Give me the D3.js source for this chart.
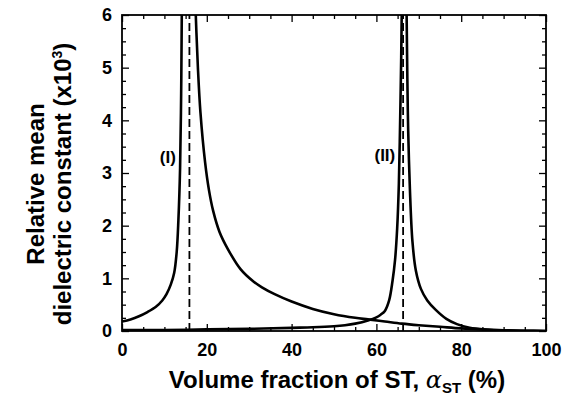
<!DOCTYPE html>
<html>
<head>
<meta charset="utf-8">
<script src="https://cdn.jsdelivr.net/npm/d3@7"></script>
<style>
  body { margin: 0; background: #fff; }
  svg { font-family: "Liberation Sans", Arial, sans-serif; font-weight: bold; }
  .axis path, .axis line { stroke: #000; }
  .axis text { font-size: 18px; font-weight: bold; fill: #000; }
</style>
</head>
<body>
<svg id="chart" width="574" height="397"></svg>
<script>
// curve (I): left and right branches around the first divergence
var curve1LeftX = [0, 2, 4, 6, 8, 9.5, 10.5, 11.5, 12.3, 12.9, 13.3, 13.7, 13.95, 14.1, 14.3];
var curve1LeftY = [0.18, 0.22, 0.28, 0.36, 0.46, 0.58, 0.7, 0.88, 1.1, 1.5, 2.1, 3.1, 4.5, 6, 8];
var curve1RightX = [17.0, 17.4, 17.9, 18.5, 19.6, 20.5, 21.5, 23, 25, 28, 31, 33, 36, 40, 45, 50, 55, 58, 62, 66, 70, 75, 80, 85, 90, 95, 100];
var curve1RightY = [7, 6, 5.0, 4.15, 3.2, 2.68, 2.28, 1.88, 1.55, 1.17, 0.94, 0.83, 0.7, 0.56, 0.42, 0.32, 0.25, 0.22, 0.18, 0.14, 0.11, 0.08, 0.05, 0.03, 0.015, 0.005, 0];
// curve (II)
var curve2LeftX = [0, 10, 20, 30, 40, 45, 50, 52.6, 55, 58, 60, 61, 62, 63, 63.8, 64.4, 64.9, 65.3, 65.6, 65.85, 66.05, 66.2];
var curve2LeftY = [0.02, 0.02, 0.03, 0.04, 0.06, 0.07, 0.09, 0.11, 0.14, 0.2, 0.26, 0.31, 0.38, 0.58, 0.95, 1.35, 1.95, 2.8, 4.0, 5.2, 6.5, 8];
var curve2RightX = [66.9, 67.1, 67.3, 67.5, 67.9, 68.5, 69.3, 70.5, 72, 74, 76.5, 79, 82, 86, 90, 95, 100];
var curve2RightY = [8, 6.2, 4.8, 3.8, 2.7, 1.7, 1.15, 0.8, 0.58, 0.4, 0.23, 0.13, 0.06, 0.025, 0.01, 0.004, 0];
// critical fractions (dashed lines)
var critical = [15.9, 66.3];
var labels = ["(I)", "(II)"];
var labelPos = [[10.8, 3.19], [62.0, 3.23]];

var xTicks = [0, 20, 40, 60, 80, 100];
var yTicks = [0, 1, 2, 3, 4, 5, 6];

var svg = d3.select("#chart"),
  margin = {top: 15, right: 28, bottom: 66, left: 122},
  width = +svg.attr("width") - margin.left - margin.right,
  height = +svg.attr("height") - margin.top - margin.bottom,
  g = svg.append("g").attr("transform", "translate(" + margin.left + "," + margin.top + ")");

var x = d3.scaleLinear().domain([0, 100]).range([0, width]);
var y = d3.scaleLinear().domain([0, 6]).range([height, 0]);

var xMinor = d3.range(0, 101, 5).filter(function(d) { return d % 20 !== 0; });
var yMinor = d3.range(0, 6.01, 0.25).filter(function(d) { return d % 1 !== 0; });
var fmt = d3.format("d");

// inward ticks on all four sides
g.append("g").attr("class", "axis").attr("transform", "translate(0," + height + ")")
  .call(d3.axisBottom(x).tickValues(xTicks).tickFormat(fmt).tickSize(-7).tickPadding(12).tickSizeOuter(0));
g.append("g").attr("class", "axis").attr("transform", "translate(0," + height + ")")
  .call(d3.axisBottom(x).tickValues(xMinor).tickSize(-4).tickFormat("").tickSizeOuter(0));
g.append("g").attr("class", "axis")
  .call(d3.axisTop(x).tickValues(xTicks).tickSize(-7).tickFormat("").tickSizeOuter(0));
g.append("g").attr("class", "axis")
  .call(d3.axisTop(x).tickValues(xMinor).tickSize(-4).tickFormat("").tickSizeOuter(0));
g.append("g").attr("class", "axis")
  .call(d3.axisLeft(y).tickValues(yTicks).tickFormat(fmt).tickSize(-7).tickPadding(10).tickSizeOuter(0));
g.append("g").attr("class", "axis")
  .call(d3.axisLeft(y).tickValues(yMinor).tickSize(-4).tickFormat("").tickSizeOuter(0));
g.append("g").attr("class", "axis").attr("transform", "translate(" + width + ",0)")
  .call(d3.axisRight(y).tickValues(yTicks).tickSize(-7).tickFormat("").tickSizeOuter(0));
g.append("g").attr("class", "axis").attr("transform", "translate(" + width + ",0)")
  .call(d3.axisRight(y).tickValues(yMinor).tickSize(-4).tickFormat("").tickSizeOuter(0));
g.selectAll(".axis line").attr("stroke-width", 1.3);
g.selectAll(".axis path").remove();

svg.append("clipPath").attr("id", "clip").append("rect")
  .attr("width", width).attr("height", height);

var line = d3.line()
  .x(function(d) { return x(d[0]); })
  .y(function(d) { return y(d[1]); })
  .curve(d3.curveCatmullRom.alpha(0.5));

var branches = [
  [curve1LeftX, curve1LeftY], [curve1RightX, curve1RightY],
  [curve2LeftX, curve2LeftY], [curve2RightX, curve2RightY]
];
var plot = g.append("g").attr("clip-path", "url(#clip)");
branches.forEach(function(b) {
  plot.append("path")
    .datum(d3.zip(b[0], b[1]))
    .attr("fill", "none")
    .attr("stroke", "#000")
    .attr("stroke-width", 2.6)
    .attr("d", line);
});

plot.selectAll(".crit")
  .data(critical)
  .enter().append("line")
  .attr("x1", function(d) { return x(d); })
  .attr("x2", function(d) { return x(d); })
  .attr("y1", y(0)).attr("y2", y(6))
  .attr("stroke", "#000")
  .attr("stroke-width", 1.8)
  .attr("stroke-dasharray", "8,4");

g.selectAll(".lbl")
  .data(labels)
  .enter().append("text")
  .attr("x", function(d, i) { return x(labelPos[i][0]); })
  .attr("y", function(d, i) { return y(labelPos[i][1]); })
  .attr("text-anchor", "middle")
  .style("font-size", "17px")
  .text(function(d) { return d; });

// frame
g.append("rect").attr("width", width).attr("height", height)
  .attr("fill", "none").attr("stroke", "#000").attr("stroke-width", 1.8);

// axis titles
var xt = svg.append("text")
  .attr("x", 337)
  .attr("y", 388)
  .attr("text-anchor", "middle")
  .style("font-size", "24px");
xt.append("tspan").text("Volume fraction of ST, ");
xt.append("tspan").attr("font-family", "DejaVu Serif").attr("font-style", "italic").attr("font-weight", "normal").text("\u03b1");
xt.append("tspan").attr("dy", 5).style("font-size", "15px").text("ST");
xt.append("tspan").attr("dy", -5).text(" (%)");

var yt = svg.append("text")
  .attr("transform", "translate(44,184) rotate(-90)")
  .attr("text-anchor", "middle")
  .style("font-size", "24px");
yt.append("tspan").attr("x", 0).attr("y", 0).text("Relative mean");
yt.append("tspan").attr("x", 0).attr("y", 27).text("dielectric constant (x10");
yt.append("tspan").attr("dy", -9).style("font-size", "14px").text("3");
yt.append("tspan").attr("dy", 9).text(")");
</script>
</body>
</html>
